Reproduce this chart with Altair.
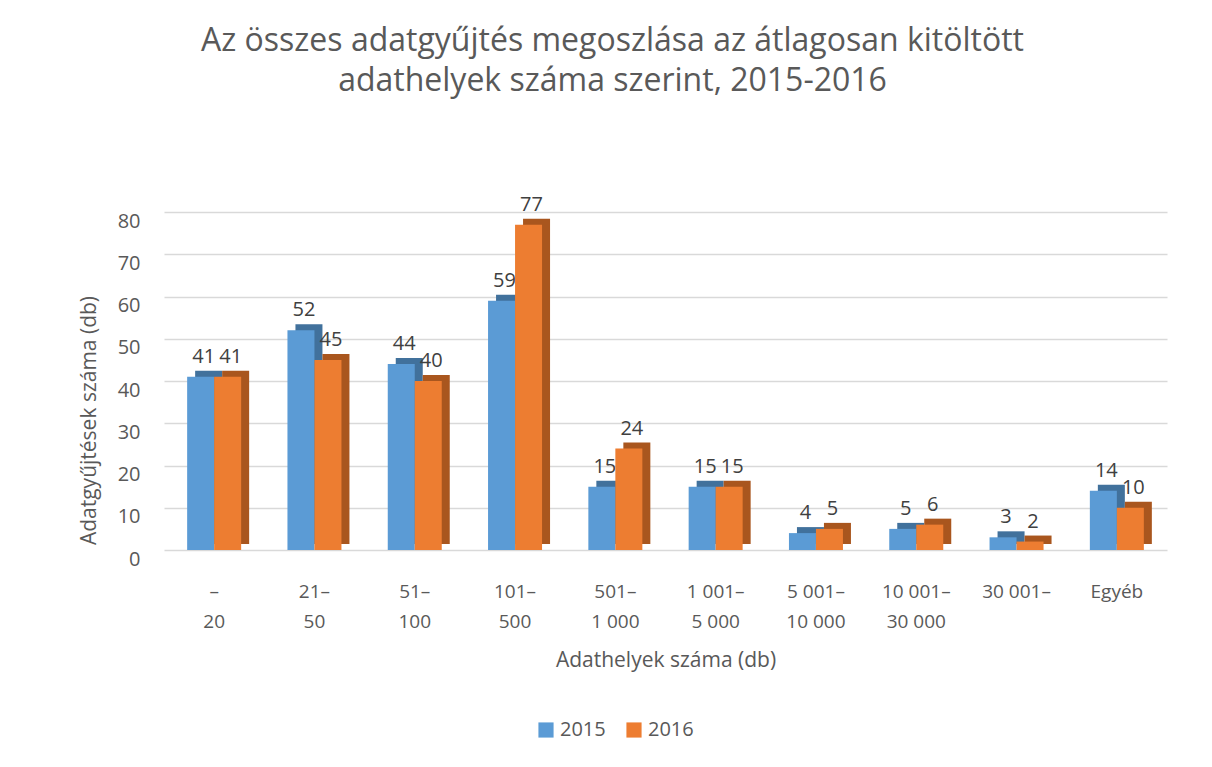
import altair as alt
import pandas as pd

categories = ["–\n20", "21–\n50", "51–\n100", "101–\n500", "501–\n1 000",
              "1 001–\n5 000", "5 001–\n10 000", "10 001–\n30 000", "30 001–", "Egyéb"]
v2015 = [41, 52, 44, 59, 15, 15, 4, 5, 3, 14]
v2016 = [41, 45, 40, 77, 24, 15, 5, 6, 2, 10]
years = ["2015", "2016"]
colors = ["#5b9bd5", "#ed7d31"]
dark = ["#41719c", "#a9561e"]
yticks = [0, 10, 20, 30, 40, 50, 60, 70, 80]

rows = []
for c, a, b in zip(categories, v2015, v2016):
    rows.append({"cat": c, "year": "2015", "value": a})
    rows.append({"cat": c, "year": "2016", "value": b})
df = pd.DataFrame(rows)

FONT = "Open Sans"
GREY = "#595959"
BW = 27
DEPTH_X = 8
DEPTH_Y = 6

x_enc = alt.X("cat:N", sort=categories, title="Adathelyek száma (db)",
              scale=alt.Scale(paddingInner=0, paddingOuter=0),
              axis=alt.Axis(labelAngle=0, domain=False, ticks=False,
                            labelExpr="split(datum.label, '\\n')",
                            labelFontSize=19, labelColor=GREY, labelFont=FONT,
                            labelLineHeight=30, labelPadding=32,
                            titleFontSize=21, titleFont=FONT, titleColor=GREY,
                            titleFontWeight="normal", titlePadding=18))
y_enc = alt.Y("value:Q", title="Adatgyűjtések száma (db)",
              scale=alt.Scale(domain=[0, 80], nice=False),
              axis=alt.Axis(values=yticks, domain=False, ticks=False,
                            gridColor="#d9d9d9", gridWidth=1.5,
                            labelFontSize=20, labelColor=GREY, labelFont=FONT,
                            labelPadding=24, labelOffset=9,
                            titleFontSize=21, titleFont=FONT, titleColor=GREY,
                            titleFontWeight="normal", titlePadding=18,
                            titleY=208))

base = alt.Chart(df)
layers = []
for i, yr in enumerate(years):
    off = -BW / 2 if i == 0 else BW / 2
    sub = base.transform_filter(alt.datum.year == yr)
    back = sub.mark_bar(size=BW, xOffset=off + DEPTH_X, yOffset=-DEPTH_Y,
                        color=dark[i]).encode(x=x_enc, y=y_enc)
    front = sub.mark_bar(size=BW, xOffset=off).encode(
        x=x_enc, y=y_enc,
        color=alt.Color("year:N", scale=alt.Scale(domain=years, range=colors),
                        legend=alt.Legend(title=None, orient="none",
                                          direction="horizontal",
                                          legendX=372, legendY=508,
                                          symbolType="square", symbolSize=230,
                                          symbolStrokeWidth=0,
                                          labelFontSize=20, labelFont=FONT,
                                          labelColor=GREY, columnPadding=18)))
    txt = sub.mark_text(xOffset=off + 3, dy=-20, fontSize=20, font=FONT,
                        color="#404040").encode(x=x_enc, y=y_enc, text="value:Q")
    layers += [back, front, txt]

chart = alt.layer(*layers).properties(
    width=1003, height=338,
    autosize=alt.AutoSizeParams(type="none"),
    padding={"left": 156, "top": 204, "right": 37, "bottom": 209},
    background="white",
    title=alt.TitleParams(
        text=["Az összes adatgyűjtés megoszlása az átlagosan kitöltött",
              "adathelyek száma szerint, 2015-2016"],
        fontSize=32, font=FONT, color=GREY, fontWeight="normal",
        lineHeight=40, anchor="middle", dx=-53, offset=97),
).configure_view(stroke=None)

chart.save("out.html", embed_options={"renderer": "svg", "actions": False})
